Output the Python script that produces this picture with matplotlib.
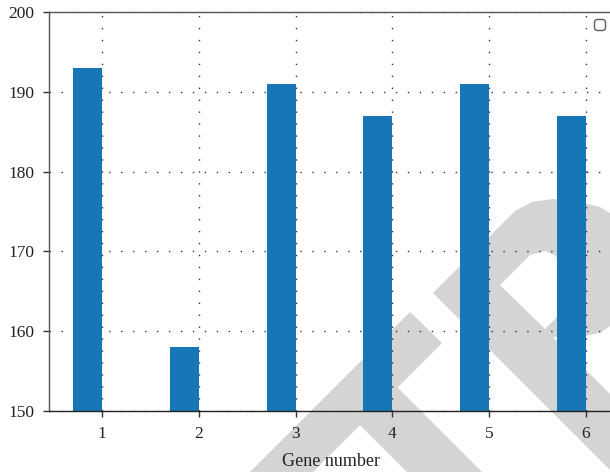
import matplotlib
matplotlib.use("Agg")
import matplotlib.pyplot as plt
from matplotlib.patches import Polygon
import numpy as np

# Data
genes = [1, 2, 3, 4, 5, 6]
counts = [193, 158, 191, 187, 191, 187]
y_ticks = [150, 160, 170, 180, 190, 200]
x_label = "Gene number"

plt.rcParams['font.family'] = ['Liberation Serif', 'DejaVu Serif']

W, H = 610, 472
fig = plt.figure(figsize=(W / 100, H / 100), dpi=100)

# Background layer in pixel coordinates for the grey logo shapes
bg = fig.add_axes([0, 0, 1, 1], zorder=0)
bg.set_xlim(0, W)
bg.set_ylim(H, 0)
bg.axis('off')
grey = '#d4d4d4'
shapes = [
    # left stroke rising to the upper right
    [(410, 312), (442, 343), (255, 530), (192, 530)],
    # stroke descending to the lower right
    [(347, 412), (385, 375), (540, 530), (465, 530)],
    # stem, bowl and tail of the right-hand letter
    [(433, 293), (515, 211), (532, 202), (553, 199), (580, 202), (600, 207),
     (613, 215), (621, 240), (621, 300), (613, 324), (600, 333), (585, 336),
     (553, 337), (750, 534), (674, 534)],
]
for pts in shapes:
    bg.add_patch(Polygon(pts, closed=True, facecolor=grey, edgecolor='none'))
# counter of the bowl
bg.add_patch(Polygon([(500, 285), (530, 255), (545, 251), (556, 256),
                      (562, 275), (562, 300), (556, 318), (545, 329)],
                     closed=True, facecolor='white', edgecolor='none'))

# Main chart axes
x_lo, x_hi = 0.455, 6.27
px_per_unit = 96.8
left = 49.3
right = left + (x_hi - x_lo) * px_per_unit
bottom, top = 411, 12
ax = fig.add_axes([left / W, 1 - bottom / H, (right - left) / W, (bottom - top) / H],
                  zorder=1)
ax.patch.set_alpha(0)

width = 0.3
ax.bar(np.array(genes), counts, width=-width, align='edge', color='#1776b6')

ax.set_xlim(x_lo, x_hi)
ax.set_ylim(150, 200)
ax.set_xticks(genes)
ax.set_yticks(y_ticks)
ax.set_axisbelow(True)
ax.grid(True, color='#333333', linewidth=1.0, linestyle=(0, (1, 7.6)))

for s in ['left', 'top', 'right']:
    ax.spines[s].set_color('#555555')
ax.spines['bottom'].set_color('#222222')
for s in ax.spines.values():
    s.set_linewidth(1.0)

ax.tick_params(axis='both', direction='out', length=4.5, width=1.0, color='#333333',
               labelsize=12.5, labelcolor='#222222', pad=6)
ax.set_xlabel(x_label, fontsize=13, color='#222222', labelpad=8)

leg = ax.legend(handles=[], labels=[], loc='upper right', fancybox=True)
leg.get_frame().set_edgecolor('#333333')
leg.get_frame().set_linewidth(1.0)

fig.savefig('out.png', dpi=100)
